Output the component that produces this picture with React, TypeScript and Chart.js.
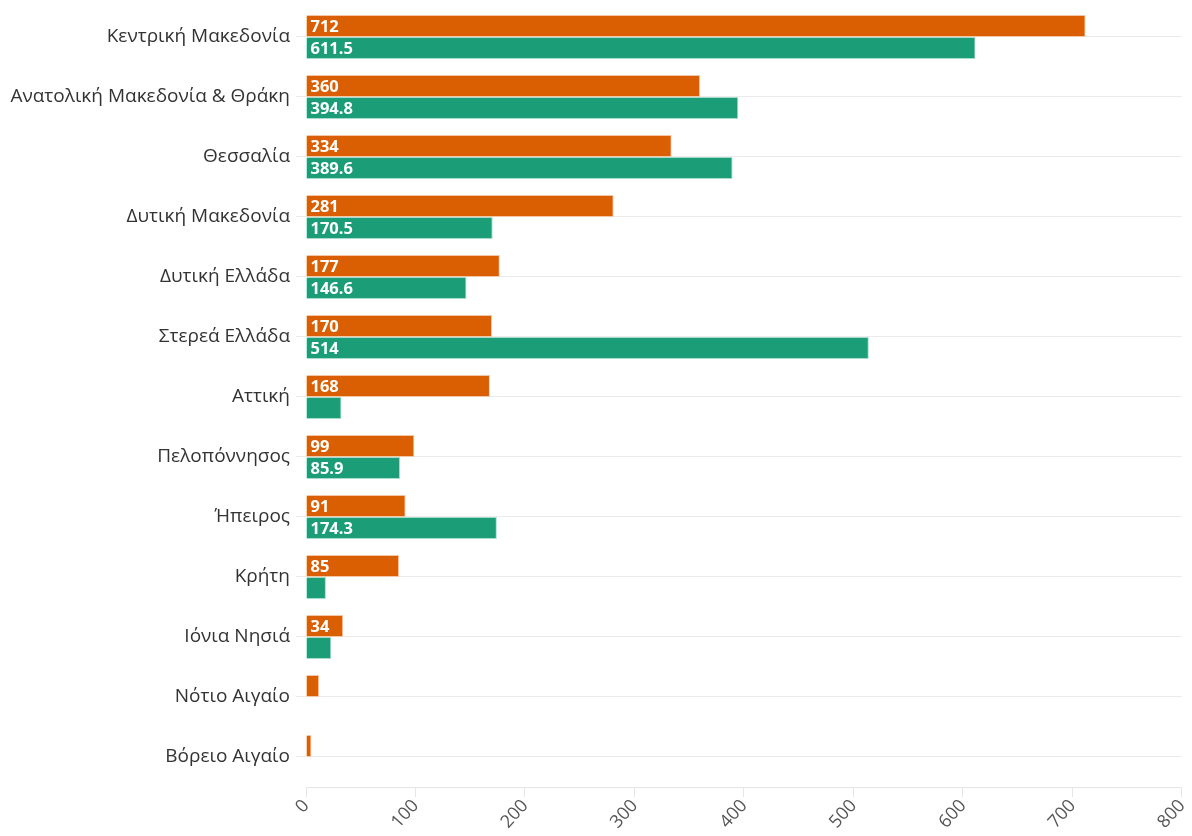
import React, { useEffect, useRef } from "react";
import { Chart, registerables } from "chart.js";

Chart.register(...registerables);

const categories = [
  "Κεντρική Μακεδονία",
  "Ανατολική Μακεδονία & Θράκη",
  "Θεσσαλία",
  "Δυτική Μακεδονία",
  "Δυτική Ελλάδα",
  "Στερεά Ελλάδα",
  "Αττική",
  "Πελοπόννησος",
  "Ήπειρος",
  "Κρήτη",
  "Ιόνια Νησιά",
  "Νότιο Αιγαίο",
  "Βόρειο Αιγαίο",
];

const orangeValues = [712, 360, 334, 281, 177, 170, 168, 99, 91, 85, 34, 12, 5];
const greenValues = [611.5, 394.8, 389.6, 170.5, 146.6, 514, 32.4, 85.9, 174.3, 18.2, 23.1, 0, 0];

const xTicks = [0, 100, 200, 300, 400, 500, 600, 700, 800];

const ORANGE = "#d95f02";
const GREEN = "#1b9e77";

const FONT = "'Open Sans', 'Noto Sans', sans-serif";

const barLabelPlugin = {
  id: "barLabels",
  afterDatasetsDraw(chart: any) {
    const ctx = chart.ctx;
    ctx.save();
    ctx.font = `bold 16.5px ${FONT}`;
    ctx.fillStyle = "#ffffff";
    ctx.textAlign = "left";
    ctx.textBaseline = "middle";
    chart.data.datasets.forEach((ds: any, di: number) => {
      const meta = chart.getDatasetMeta(di);
      meta.data.forEach((el: any, i: number) => {
        const v = ds.data[i];
        if (!v) return;
        const text = String(v);
        const w = ctx.measureText(text).width;
        const barW = el.x - el.base;
        if (w + 8 > barW) return;
        ctx.fillText(text, el.base + 4, el.y + 1);
      });
    });
    ctx.restore();
  },
};

export default function App() {
  const ref = useRef<HTMLCanvasElement | null>(null);

  useEffect(() => {
    if (!ref.current) return;
    const chart = new Chart(ref.current, {
      type: "bar",
      data: {
        labels: categories,
        datasets: [
          {
            label: "A",
            data: orangeValues,
            backgroundColor: ORANGE,
            borderColor: "#f3c7a6",
            borderWidth: 1,
            barPercentage: 1,
            categoryPercentage: 0.73,
          },
          {
            label: "B",
            data: greenValues,
            backgroundColor: GREEN,
            borderColor: "#a9dccc",
            borderWidth: 1,
            barPercentage: 1,
            categoryPercentage: 0.73,
          },
        ],
      },
      options: {
        indexAxis: "y",
        responsive: false,
        animation: false,
        maintainAspectRatio: false,
        layout: { padding: { top: 0, right: 7, bottom: 0, left: 0 } },
        plugins: {
          legend: { display: false },
          tooltip: { enabled: false },
        },
        scales: {
          x: {
            type: "linear",
            min: 0,
            max: 800,
            afterBuildTicks: (scale: any) => {
              scale.ticks = xTicks.map((v) => ({ value: v }));
            },
            afterFit: (scale: any) => {
              scale.height = 93;
            },
            grid: {
              display: true,
              drawOnChartArea: false,
              drawTicks: true,
              tickLength: 10,
              color: "#e6e6e6",
            },
            border: { display: true, color: "#e6e6e6" },
            ticks: {
              minRotation: 48,
              maxRotation: 48,
              padding: 2,
              color: "#555555",
              font: { family: FONT, size: 18, lineHeight: 0.6 },
            },
          },
          y: {
            afterFit: (scale: any) => {
              scale.width = 306;
            },
            grid: {
              display: true,
              offset: false,
              drawOnChartArea: true,
              drawTicks: true,
              tickLength: 10,
              color: "#ebebeb",
            },
            border: { display: false },
            ticks: {
              padding: 6,
              color: "#333333",
              font: { family: FONT, size: 19, lineHeight: 0.63 },
            },
          },
        },
      },
      plugins: [barLabelPlugin],
    } as any);
    return () => chart.destroy();
  }, []);

  return (
    <div style={{ position: "fixed", left: 0, top: -5, width: 1192, height: 885, background: "#fff" }}>
      <canvas ref={ref} width={1192} height={885} style={{ display: "block" }} />
    </div>
  );
}
